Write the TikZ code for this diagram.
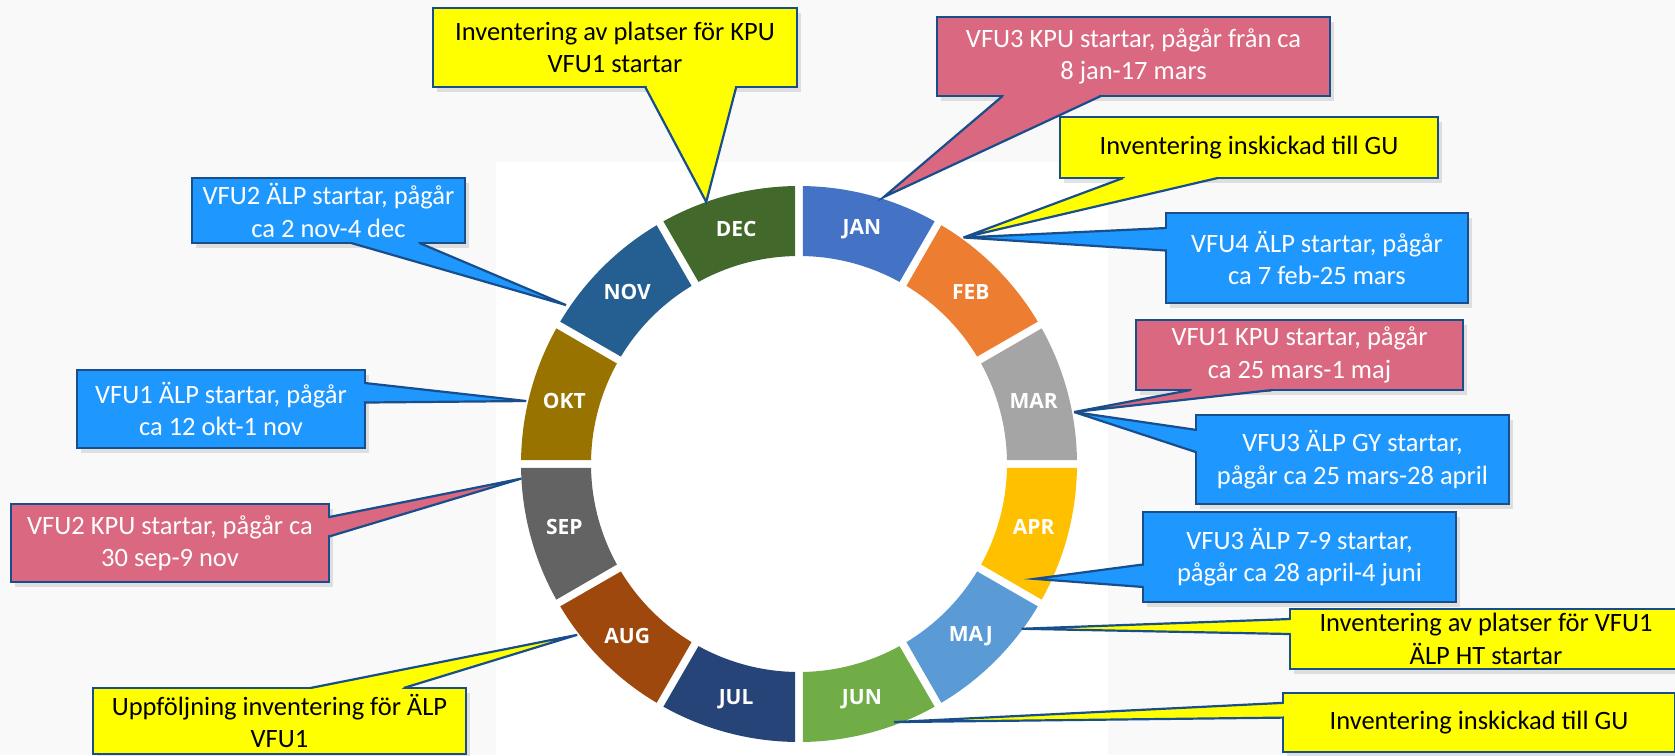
\documentclass[tikz,border=0pt]{standalone}
\usepackage{fontspec}
\setmainfont{Carlito}
\newfontfamily\monthfont{Open Sans}
\usetikzlibrary{calc,shadows}

\definecolor{boxyellow}{RGB}{255,255,0}
\definecolor{boxpink}{RGB}{217,104,128}
\definecolor{boxblue}{RGB}{30,152,255}
\definecolor{boxedge}{RGB}{24,78,140}
\definecolor{canvas}{RGB}{249,249,249}
\definecolor{mjan}{HTML}{4472C4}
\definecolor{mfeb}{HTML}{ED7D31}
\definecolor{mmar}{HTML}{A5A5A5}
\definecolor{mapr}{HTML}{FFC000}
\definecolor{mmaj}{HTML}{5B9BD5}
\definecolor{mjun}{HTML}{70AD47}
\definecolor{mjul}{HTML}{264478}
\definecolor{maug}{HTML}{9E480E}
\definecolor{msep}{HTML}{636363}
\definecolor{mokt}{HTML}{997300}
\definecolor{mnov}{HTML}{255E91}
\definecolor{mdec}{HTML}{43682B}

\tikzset{
  callbox/.style={draw=boxedge, line width=2.5pt, outer sep=0pt, inner sep=0pt, align=center,
    font=\fontsize{26.5}{32.5}\selectfont,
    drop shadow={opacity=0.22, shadow xshift=4pt, shadow yshift=-5pt}},
  yellowbox/.style={callbox, fill=boxyellow, text=black},
  pinkbox/.style={callbox, fill=boxpink, text=white},
  bluebox/.style={callbox, fill=boxblue, text=white},
  monthlabel/.style={text=white, font=\monthfont\bfseries\fontsize{21}{21}\selectfont},
}

\begin{document}
\begin{tikzpicture}[x=1pt, y=1pt]
  \useasboundingbox (0,0) rectangle (1675,-755);
  \fill[canvas] (0,0) rectangle (1675,-755);
  \fill[white] (496,-162) rectangle (1108,-755);

  % year ring
  \coordinate (c) at (799,-464);
  \foreach \m/\a/\col in {JAN/60/mjan, FEB/30/mfeb, MAR/0/mmar, APR/-30/mapr,
      MAJ/-60/mmaj, JUN/-90/mjun, JUL/-120/mjul, AUG/-150/maug,
      SEP/-180/msep, OKT/150/mokt, NOV/120/mnov, DEC/90/mdec} {
    \fill[\col] ($(c)+(\a+0.8:278)$) arc[start angle=\a+0.8, end angle=\a+29.2, radius=278]
      -- ($(c)+(\a+28.9:208)$) arc[start angle=\a+28.9, end angle=\a+1.1, radius=208] -- cycle;
    \node[monthlabel] (\m) at ($(c)+(\a+15:243)$) {\m};
  }

  % pointer tips on the ring
  \coordinate (t-dec) at ($(c)+(109.5:278)$);
  \coordinate (t-jan) at ($(c)+(72.4:280)$);
  \coordinate (t-feb) at ($(c)+(54:280)$);
  \coordinate (t-mar) at ($(c)+(10.7:280)$);
  \coordinate (t-apr) at ($(c)+(-26:262)$);
  \coordinate (t-maj) at ($(c)+(-36.5:277)$);
  \coordinate (t-jun) at ($(c)+(-69.8:275)$);
  \coordinate (t-aug) at ($(c)+(-142.4:280)$);
  \coordinate (t-sep) at ($(c)+(-177:278)$);
  \coordinate (t-okt) at ($(c)+(167:280)$);
  \coordinate (t-nov) at ($(c)+(145.7:282)$);

  % notes
  \node[yellowbox, minimum width=364pt, minimum height=79pt] (b-dec) at (615,-47.5)
    {Inventering av platser för KPU\\VFU1 startar};
  \node[pinkbox, minimum width=393pt, minimum height=79pt] (b-jan) at (1133.5,-56.5)
    {VFU3 KPU startar, pågår från ca\\8 jan-17 mars};
  \node[yellowbox, minimum width=378pt, minimum height=61pt] (b-feb1) at (1249,-147.5)
    {Inventering inskickad till GU};
  \node[bluebox, minimum width=302pt, minimum height=90pt] (b-feb2) at (1317,-258)
    {VFU4 ÄLP startar, pågår\\ca 7 feb-25 mars};
  \node[pinkbox, minimum width=327pt, minimum height=70pt] (b-mar1) at (1299.5,-355)
    {VFU1 KPU startar, pågår\\ca 25 mars-1 maj};
  \node[bluebox, minimum width=313pt, minimum height=89pt] (b-mar2) at (1352.5,-459.5)
    {VFU3 ÄLP GY startar,\\pågår ca 25 mars-28 april};
  \node[bluebox, minimum width=313pt, minimum height=90pt] (b-apr) at (1299.5,-557)
    {VFU3 ÄLP 7-9 startar,\\pågår ca 28 april-4 juni};
  \node[yellowbox, minimum width=392pt, minimum height=60pt] (b-maj) at (1486,-639)
    {Inventering av platser för VFU1\\ÄLP HT startar};
  \node[yellowbox, minimum width=392pt, minimum height=59pt] (b-jun) at (1479,-722.5)
    {Inventering inskickad till GU};
  \node[bluebox, minimum width=273pt, minimum height=65pt] (b-nov) at (328.5,-210.5)
    {VFU2 ÄLP startar, pågår\\ca 2 nov-4 dec};
  \node[bluebox, minimum width=288pt, minimum height=78pt] (b-okt) at (221,-409)
    {VFU1 ÄLP startar, pågår\\ca 12 okt-1 nov};
  \node[pinkbox, minimum width=318pt, minimum height=78pt] (b-sep) at (170,-543)
    {VFU2 KPU startar, pågår ca\\30 sep-9 nov};
  \node[yellowbox, minimum width=373pt, minimum height=66pt] (b-aug) at (279.5,-721)
    {\fontsize{26.5}{28}\selectfont Uppföljning inventering för ÄLP\\VFU1};

  % callout pointers
  \foreach \b/\p/\q/\f/\g/\t/\col in {
      b-dec/south west/south east/0.583/0.833/t-dec/boxyellow,
      b-jan/south west/south east/0.167/0.417/t-jan/boxpink,
      b-feb1/south west/south east/0.167/0.417/t-feb/boxyellow,
      b-feb2/north west/south west/0.167/0.417/t-feb/boxblue,
      b-mar1/south west/south east/0.167/0.417/t-mar/boxpink,
      b-mar2/north west/south west/0.167/0.417/t-mar/boxblue,
      b-apr/north west/south west/0.583/0.833/t-apr/boxblue,
      b-maj/north west/south west/0.167/0.417/t-maj/boxyellow,
      b-jun/north west/south west/0.167/0.417/t-jun/boxyellow,
      b-nov/south west/south east/0.583/0.833/t-nov/boxblue,
      b-okt/north east/south east/0.167/0.417/t-okt/boxblue,
      b-sep/north east/south east/0.167/0.417/t-sep/boxpink,
      b-aug/north west/north east/0.583/0.833/t-aug/boxyellow} {
    \coordinate (p1) at ($(\b.\p)!\f!(\b.\q)$);
    \coordinate (p2) at ($(\b.\p)!\g!(\b.\q)$);
    \fill[\col] (p1) -- (\t) -- (p2) -- cycle;
    \draw[\col, line width=3.2pt, shorten <=1.4pt, shorten >=1.4pt] (p1) -- (p2);
    \draw[boxedge, line width=2.2pt] (p1) -- (\t) -- (p2);
  }
\end{tikzpicture}
\end{document}
